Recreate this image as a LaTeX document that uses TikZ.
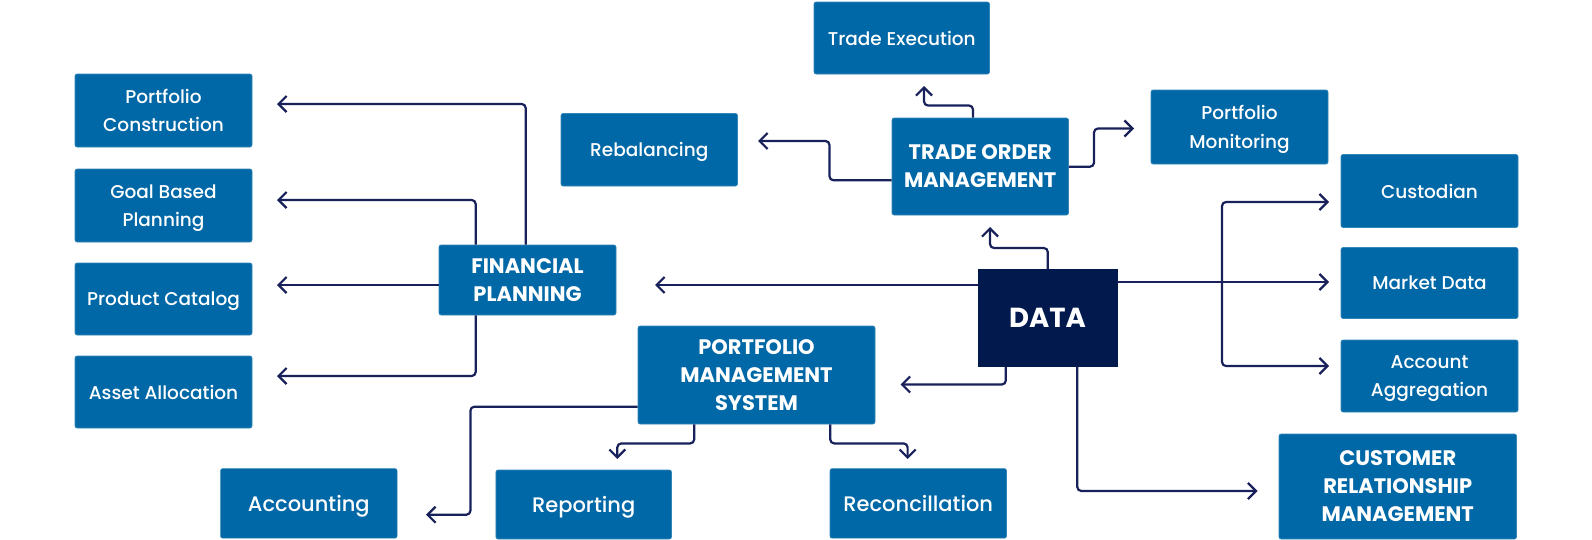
\documentclass[tikz,border=0pt]{standalone}
\usepackage{fontspec}
\setmainfont{Poppins}
\newfontfamily\popmed{Poppins Medium}
\usetikzlibrary{calc,arrows.meta}
\definecolor{boxblue}{HTML}{0068A6}
\definecolor{navybox}{HTML}{02194E}
\definecolor{linenavy}{HTML}{18215A}
\begin{document}
\begin{tikzpicture}[x=1pt,y=-1pt,
  box/.style={fill=boxblue, draw=boxblue!80!white, line width=0.6pt, rounded corners=2pt,
    inner sep=0pt, align=center, text=white, text depth=0pt,
    font=\popmed\fontsize{18.5}{28.5}\selectfont},
  bigbox/.style={box, font=\popmed\fontsize{21}{28.5}\selectfont},
  boldbox/.style={box, font=\bfseries\fontsize{21}{28}\selectfont},
  databox/.style={fill=navybox, draw=navybox, inner sep=0pt, text=white, text depth=0pt,
    font=\bfseries\fontsize{27.5}{32}\selectfont},
  arr/.style={draw=linenavy, line width=2.2pt, rounded corners=4pt,
    -{Straight Barb[length=8pt,width=16pt]}}
]
\useasboundingbox (0,0) rectangle (1592,539);

% nodes
\node[box, minimum width=177pt, minimum height=73pt] (pc)  at (163.5,110.5) {Portfolio\\Construction};
\node[box, minimum width=177pt, minimum height=73pt] (gbp) at (163.5,205.5) {Goal Based\\Planning};
\node[box, minimum width=177pt, minimum height=72pt] (prc) at (163.5,299) {Product Catalog};
\node[box, minimum width=177pt, minimum height=72pt] (aa)  at (163.5,392) {Asset Allocation};
\node[boldbox, minimum width=177pt, minimum height=70pt] (fp) at (527.5,280) {FINANCIAL\\PLANNING};
\node[box, minimum width=176.5pt, minimum height=72.5pt] (reb) at (649.25,149.75) {Rebalancing};
\node[box, minimum width=175.5pt, minimum height=72pt] (te) at (901.75,38) {Trade Execution};
\node[boldbox, minimum width=176.5pt, minimum height=97pt] (tom) at (980.25,166.5) {TRADE ORDER\\MANAGEMENT};
\node[box, minimum width=177pt, minimum height=74pt] (pm) at (1239.5,127) {Portfolio\\Monitoring};
\node[box, minimum width=177pt, minimum height=73pt] (cus) at (1429.5,191) {Custodian};
\node[box, minimum width=177pt, minimum height=71pt] (md)  at (1429.5,283) {Market Data};
\node[box, minimum width=177pt, minimum height=72pt] (agg) at (1429.5,376) {Account\\Aggregation};
\node[databox, minimum width=139pt, minimum height=97pt] (data) at (1047.5,318) {DATA};
\node[boldbox, minimum width=237pt, minimum height=98pt] (pms) at (756.5,375) {PORTFOLIO\\MANAGEMENT\\SYSTEM};
\node[bigbox, minimum width=176.5pt, minimum height=69.5pt] (acc) at (308.8,503.4) {Accounting};
\node[bigbox, minimum width=175.5pt, minimum height=69pt] (rep) at (583.7,504.5) {Reporting};
\node[bigbox, minimum width=176.5pt, minimum height=69.5pt] (rec) at (918.25,503.4) {Reconcillation};
\node[boldbox, minimum width=237.5pt, minimum height=105pt] (crm) at (1397.75,486.5) {CUSTOMER\\RELATIONSHIP\\MANAGEMENT};

% free arrow ends
\coordinate (tPC)  at (277,104);
\coordinate (tGBP) at (277,200);
\coordinate (tPrC) at (277,285);
\coordinate (tAA)  at (277,376);
\coordinate (tFP)  at (655,285);
\coordinate (tTOM) at (990,227);
\coordinate (tTE)  at (924,86);
\coordinate (tReb) at (758,141);
\coordinate (tPM)  at (1134,128.5);
\coordinate (tCus) at (1329,202);
\coordinate (tMD)  at (1329,282);
\coordinate (tAgg) at (1329,366);
\coordinate (tPMS) at (900.5,384.5);
\coordinate (tCRM) at (1257.5,491);
\coordinate (tAcc) at (426,514.7);
\coordinate (tRep) at (617.3,459);
\coordinate (tRec) at (907.6,459);
\coordinate (j)    at (1222,282);

% connectors
\draw[arr] ($(fp.north west)+(87,0)$) |- (tPC);
\draw[arr] ($(fp.north west)+(37,0)$) |- (tGBP);
\draw[arr] (fp.west |- tPrC) -- (tPrC);
\draw[arr] ($(fp.south west)+(37,0)$) |- (tAA);
\draw[arr] (data.west |- tFP) -- (tFP);
\draw[arr] ($(data.north west)+(70,0)$) |- ($(tTOM)+(0,21)$) -- (tTOM);
\draw[arr] ($(tom.north west)+(81.3,0)$) |- ($(tTE)+(0,19.5)$) -- (tTE);
\draw[arr] ($(tom.south west)+(0,-35)$) -| ($(tReb)+(71.5,0)$) -- (tReb);
\draw[arr] ($(tom.north east)+(0,49)$) -| ($(tPM)+(-40,0)$) -- (tPM);
\draw[arr] (data.east |- tMD) -- (tMD);
\draw[arr] (j) |- (tCus);
\draw[arr] (j) |- (tAgg);
\draw[arr] ($(data.south west)+(28,0)$) |- (tPMS);
\draw[arr] ($(data.south west)+(99.5,0)$) |- (tCRM);
\draw[arr] ($(pms.south west)+(0,-17.6)$) -| ($(tAcc)+(44.4,0)$) -- (tAcc);
\draw[arr] ($(pms.south west)+(56.5,0)$) |- ($(tRep)+(0,-15.6)$) -- (tRep);
\draw[arr] ($(pms.south west)+(192.5,0)$) |- ($(tRec)+(0,-15.6)$) -- (tRec);
\end{tikzpicture}
\end{document}
